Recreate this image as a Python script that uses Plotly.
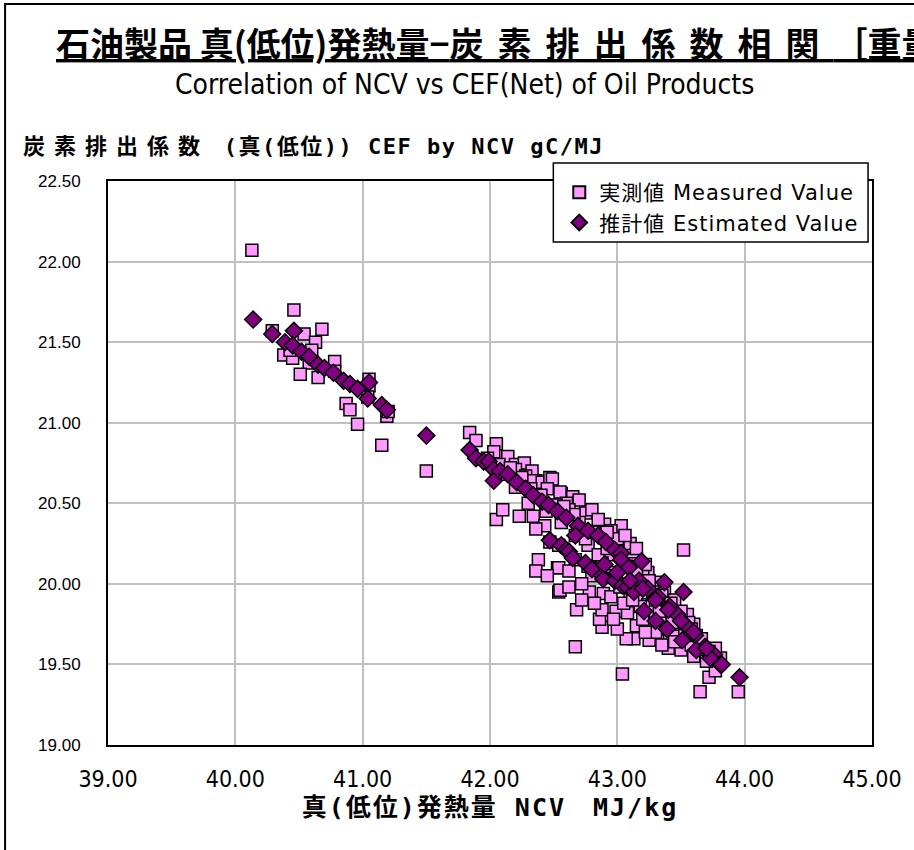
import plotly.graph_objects as go

# Measured values (NCV MJ/kg, CEF gC/MJ)
measured_ncv = [
    40.13, 40.29, 40.46, 40.54, 40.68, 40.63, 40.38, 40.45, 40.58, 40.78,
    40.78, 40.51, 40.65, 40.43, 40.60, 41.05, 41.05, 41.04, 41.19, 41.20,
    40.87, 40.90, 40.96, 41.15, 41.50,
    41.84, 41.89, 42.05, 42.03, 42.14, 42.20, 42.27, 42.20, 42.33, 42.28,
    42.36, 42.34, 42.41, 42.47, 42.49, 42.45, 42.32, 42.20, 42.56, 42.55,
    42.65, 42.60, 42.70, 42.75, 42.80, 42.90, 43.03, 42.85, 42.95, 42.62,
    42.52, 42.12, 42.07, 41.98, 42.23, 42.34, 42.43, 42.36, 42.56, 42.47,
    42.38, 42.36, 42.53, 42.54, 42.05, 42.10,
    42.67, 42.77, 42.88, 42.98, 43.03, 43.11, 43.24, 43.34, 42.98, 42.82,
    42.78, 42.89, 42.54, 42.54, 42.67, 42.77, 42.95, 43.03, 43.07, 42.88,
    42.80, 43.17, 43.30, 43.37, 43.19, 43.24, 43.30, 43.47, 43.39, 43.55,
    43.60, 43.56, 43.65, 43.50, 43.41, 43.25, 43.13, 43.07, 43.00, 42.88,
    42.86, 42.99, 42.88, 43.08, 43.15, 42.68, 42.67, 42.55, 43.04, 43.65,
    43.95, 43.72, 43.77, 43.81, 43.77, 43.52, 43.20, 43.28, 43.45, 43.40,
    43.35, 43.10, 43.05, 42.95, 42.72, 42.62, 43.12, 43.22, 43.30, 43.00,
    43.10, 42.92, 43.70, 43.62, 43.58, 43.45, 43.20, 43.48,
    43.15, 43.25, 43.35, 43.42, 43.50, 43.58, 43.66, 43.72, 43.33, 43.43,
    43.53, 43.40, 43.30, 43.18, 43.12, 43.02, 42.93, 42.85, 42.75, 42.70,
    42.82, 42.66, 42.58, 42.92, 43.06, 43.15, 42.40, 42.25, 42.16, 42.44,
    42.30, 42.62, 42.72, 42.82, 42.97, 43.22, 43.35, 43.60, 43.45, 42.45,
]
measured_cef = [
    22.07, 21.57, 21.70, 21.55, 21.58, 21.50, 21.42, 21.40, 21.37, 21.38,
    21.32, 21.30, 21.28, 21.45, 21.45, 21.27, 21.23, 21.16, 21.04, 21.07,
    21.12, 21.08, 20.99, 20.86, 20.70,
    20.94, 20.89, 20.87, 20.82, 20.79, 20.74, 20.75, 20.71, 20.70, 20.67,
    20.64, 20.64, 20.63, 20.66, 20.65, 20.59, 20.59, 20.60, 20.56, 20.57,
    20.54, 20.50, 20.52, 20.44, 20.46, 20.37, 20.36, 20.40, 20.33, 20.46,
    20.49, 20.68, 20.74, 20.78, 20.42, 20.42, 20.36, 20.34, 20.38, 20.26,
    20.15, 20.08, 20.10, 19.95, 20.40, 20.46,
    20.30, 20.24, 20.17, 20.26, 20.19, 20.13, 20.07, 19.99, 20.07, 20.09,
    19.95, 19.94, 20.24, 20.10, 20.15, 20.11, 20.18, 20.17, 20.11, 20.13,
    20.05, 20.02, 20.01, 19.95, 19.90, 19.87, 19.79, 19.80, 19.72, 19.81,
    19.75, 19.76, 19.61, 19.59, 19.65, 19.65, 19.66, 19.66, 19.72, 19.73,
    19.78, 19.83, 19.84, 19.82, 19.74, 19.84, 19.61, 19.96, 19.44, 19.33,
    19.33, 19.42, 19.46, 19.54, 19.60, 20.21, 20.05, 19.95, 19.90, 19.85,
    19.80, 19.95, 19.88, 19.92, 20.00, 19.98, 20.20, 20.12, 19.90, 20.28,
    20.25, 20.32, 19.52, 19.68, 19.62, 19.70, 19.78, 19.75,
    20.08, 20.02, 19.93, 19.88, 19.83, 19.72, 19.66, 19.58, 19.83, 19.76,
    19.68, 19.60, 19.70, 19.86, 19.90, 19.98, 20.05, 20.18, 20.28, 20.38,
    20.32, 20.43, 20.48, 20.22, 20.30, 20.22, 20.55, 20.66, 20.72, 20.45,
    20.50, 20.08, 19.90, 19.88, 19.78, 19.70, 19.62, 19.55, 19.64, 20.05,
]

# Estimated values (NCV MJ/kg, CEF gC/MJ)
estimated_ncv = [
    40.14, 40.29, 40.39, 40.46, 40.45, 40.52, 40.58, 40.65, 40.70, 40.77,
    40.85, 40.90, 40.96, 41.05, 41.04, 41.15, 41.19, 41.50,
    41.84, 41.89, 41.95, 41.99, 42.03, 42.03, 42.08, 42.14, 42.21, 42.28,
    42.34, 42.41, 42.46, 42.53, 42.60, 42.69, 42.77, 42.85, 42.91, 42.98,
    43.03, 43.03, 43.09, 43.17, 43.24, 43.32, 43.41, 43.47, 43.53, 43.61,
    43.69, 43.76, 43.81, 43.19, 43.37, 43.52, 43.96,
    42.47, 42.56, 42.60, 42.62, 42.65, 42.67, 42.75, 42.80, 42.88, 42.89,
    42.98, 43.04, 43.08, 43.13, 43.21, 43.30, 43.39, 43.51, 43.62, 43.73,
    43.82,
    42.90, 43.00, 43.10, 43.20, 43.30, 43.40, 43.50, 43.60, 43.70,
]
estimated_cef = [
    21.64, 21.55, 21.50, 21.57, 21.48, 21.44, 21.41, 21.36, 21.34, 21.31,
    21.26, 21.24, 21.21, 21.25, 21.15, 21.11, 21.08, 20.92,
    20.83, 20.78, 20.76, 20.76, 20.71, 20.64, 20.70, 20.68, 20.63, 20.59,
    20.55, 20.51, 20.49, 20.45, 20.41, 20.36, 20.33, 20.30, 20.26, 20.21,
    20.19, 20.15, 20.10, 20.02, 19.97, 19.92, 19.86, 19.81, 19.75, 19.68,
    19.61, 19.56, 19.50, 20.14, 20.01, 19.95, 19.42,
    20.27, 20.24, 20.21, 20.20, 20.16, 20.30, 20.13, 20.09, 20.05, 20.03,
    20.02, 19.99, 19.98, 19.95, 19.83, 19.77, 19.72, 19.65, 19.59, 19.54,
    19.50,
    20.12, 20.07, 20.02, 19.97, 19.90, 19.84, 19.77, 19.70, 19.60,
]

x_ticks = [39, 40, 41, 42, 43, 44, 45]
y_ticks = [19.0, 19.5, 20.0, 20.5, 21.0, 21.5, 22.0, 22.5]

title_head = "石油製品 真(低位)発熱量−"
title_tail = "炭素排出係数相関"
title_end = "［重量単位］"
subtitle_text = "Correlation of NCV vs CEF(Net) of Oil Products"
y_title_head = "炭素排出係数"
y_title_tail = " (真(低位)) CEF by NCV gC/MJ"
x_title_text = "真(低位)発熱量 NCV　MJ/kg"
measured_label = "実測値 Measured Value"
estimated_label = "推計値 Estimated Value"


def spaced(text, px):
    return f"<span style='letter-spacing:{px}px'>{text}</span>"


JP = "Noto Sans CJK JP"
JP_MONO = "DejaVu Sans Mono, Noto Sans CJK JP"
NARROW = "Liberation Sans Narrow, DejaVu Sans Condensed, sans-serif"

# plot-area pixel geometry, used to place the paper-referenced legend frame
L, R, T, B = 108, 880, 181, 745
W, H = R - L, B - T


def px_x(p):
    return (p - L) / W


def px_y(p):
    return (B - p) / H


fig = go.Figure()
fig.add_trace(go.Scatter(
    x=measured_ncv, y=measured_cef, mode="markers",
    name=spaced(measured_label, 1),
    marker=dict(symbol="square", size=12, color="#FF99FF",
                line=dict(color="#000000", width=1.5)),
))
fig.add_trace(go.Scatter(
    x=estimated_ncv, y=estimated_cef, mode="markers",
    name=spaced(estimated_label, 1),
    marker=dict(symbol="diamond", size=13, color="#800080",
                line=dict(color="#000000", width=1.5)),
))

axis_common = dict(
    showgrid=True, gridcolor="#C0C0C0", gridwidth=1.5,
    showline=True, linecolor="#000000", linewidth=2, mirror=True,
    ticks="", zeroline=False,
)

fig.update_xaxes(
    range=[39, 45], tickvals=x_ticks,
    ticktext=[f"{v:.2f}" for v in x_ticks],
    tickfont=dict(family=NARROW, size=23, color="#000000"),
    ticklabelstandoff=12,
    title=dict(text=spaced(x_title_text, 2),
               font=dict(family=JP_MONO, size=25, color="#000000", weight="bold"),
               standoff=8),
    **axis_common,
)
fig.update_yaxes(
    range=[19, 22.5], tickvals=y_ticks,
    ticktext=[f"{v:.2f}" for v in y_ticks],
    tickfont=dict(family="Liberation Sans, Arial, sans-serif", size=17, color="#000000"),
    ticklabelstandoff=22,
    **axis_common,
)

fig.update_layout(
    width=914, height=850,
    margin=dict(l=L, r=914 - R, t=T, b=850 - B),
    paper_bgcolor="#FFFFFF", plot_bgcolor="#FFFFFF",
    showlegend=True,
    legend=dict(
        x=px_x(564), y=px_y(172), xanchor="left", yanchor="top",
        bgcolor="rgba(0,0,0,0)", borderwidth=0,
        font=dict(family="DejaVu Sans, " + JP, size=21, color="#000000"),
        itemsizing="constant",
    ),
    annotations=[
        dict(text="<u>" + title_head + spaced(title_tail, 14) + title_end + "</u>",
             xref="paper", yref="paper",
             x=px_x(53), y=px_y(43), xanchor="left", yanchor="middle", showarrow=False,
             font=dict(family=JP, size=34, color="#000000", weight="bold")),
        dict(text=subtitle_text, xref="paper", yref="paper",
             x=px_x(468), y=px_y(85), xanchor="center", yanchor="middle", showarrow=False,
             font=dict(family=NARROW, size=28, color="#000000")),
        dict(text=spaced(y_title_head, 9) + spaced(y_title_tail, 1.5),
             xref="paper", yref="paper",
             x=px_x(20), y=px_y(146), xanchor="left", yanchor="middle", showarrow=False,
             font=dict(family=JP_MONO, size=22, color="#000000", weight="bold")),
    ],
    shapes=[
        # outer chart frame
        dict(type="rect", xref="paper", yref="paper",
             x0=px_x(4), x1=px_x(930), y0=px_y(870), y1=px_y(4),
             line=dict(color="#000000", width=2), fillcolor="rgba(0,0,0,0)",
             layer="below"),
        # legend frame
        dict(type="rect", xref="paper", yref="paper",
             x0=px_x(558), x1=px_x(876), y0=px_y(242), y1=px_y(163),
             line=dict(color="#000000", width=1.5), fillcolor="#FFFFFF",
             layer="above"),
    ],
)

fig.write_html("out.html")
